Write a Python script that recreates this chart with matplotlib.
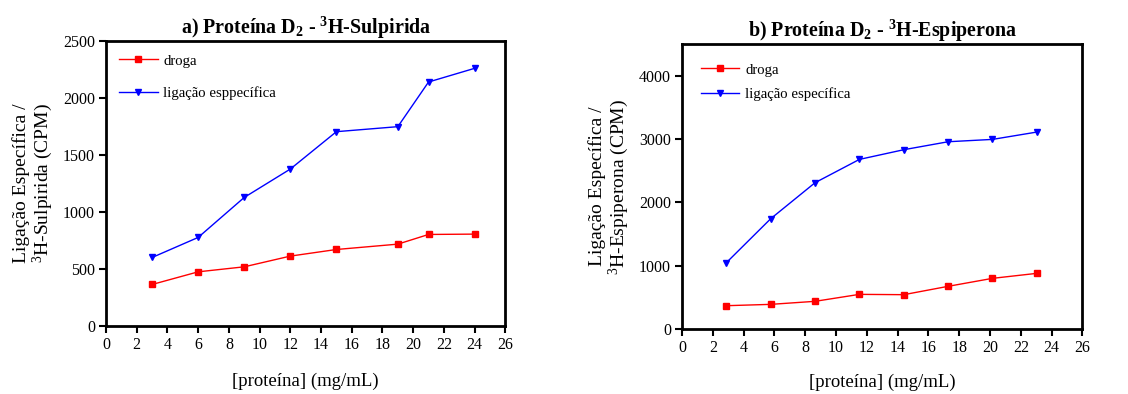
import matplotlib
matplotlib.use('Agg')
import matplotlib.pyplot as plt

plt.rcParams.update({
    'font.family': 'serif', 'font.serif': ['Liberation Serif', 'DejaVu Serif'],
    'mathtext.fontset': 'custom', 'mathtext.rm': 'Liberation Serif',
    'mathtext.bf': 'Liberation Serif:bold', 'mathtext.it': 'Liberation Serif:italic',
})

# a) Sulpirida
x_a = [3, 6, 9, 12, 15, 19, 21, 24]
droga_a = [363, 474, 518, 612, 670, 717, 802, 805]
lig_a = [600, 776, 1127, 1376, 1704, 1748, 2140, 2260]

# b) Espiperona
x_b = [2.88, 5.76, 8.64, 11.52, 14.4, 17.28, 20.16, 23.04]
droga_b = [368, 389, 437, 547, 542, 674, 800, 879]
lig_b = [1047, 1742, 2311, 2679, 2832, 2958, 2995, 3111]

fig = plt.figure(figsize=(11.28, 3.94), dpi=100)
ax1 = fig.add_axes([0.094, 0.173, 0.354, 0.723])
ax2 = fig.add_axes([0.6046, 0.165, 0.355, 0.723])

def style(ax, ylim, ystep):
    ax.set_xlim(0, 26)
    ax.set_ylim(0, ylim)
    ax.set_xticks(range(0, 27, 2))
    ax.set_yticks(range(0, int(ylim) + 1, ystep))
    for s in ax.spines.values():
        s.set_linewidth(2)
    ax.tick_params(direction='out', length=5, width=1.5, labelsize=11.5, pad=3)

leg_kw = dict(loc='upper left', frameon=False, fontsize=10.6, handlelength=2.6,
              handletextpad=0.4)

ax1.plot(x_a, droga_a, color='#ff0000', marker='s', ms=5, lw=1, label='droga')
ax1.plot(x_a, lig_a, color='#0000ff', marker='v', ms=5, lw=1, label='ligação esppecífica')
style(ax1, 2500, 500)
ax1.set_title(r'a) Proteína D$_\mathbf{2}$ - $^\mathbf{3}$H-Sulpirida', fontsize=14.4, fontweight='bold', pad=5)
ax1.set_xlabel('[proteína] (mg/mL)', fontsize=13.5, labelpad=14)
ax1.set_ylabel('Ligação Específica /\n$^3$H-Sulpirida (CPM)', fontsize=14, labelpad=6, linespacing=1.0)
ax1.legend(labelspacing=1.3, borderaxespad=0.5, **leg_kw)

ax2.plot(x_b, droga_b, color='#ff0000', marker='s', ms=5, lw=1, label='droga')
ax2.plot(x_b, lig_b, color='#0000ff', marker='v', ms=5, lw=1, label='ligação específica')
style(ax2, 4500, 1000)
ax2.set_yticks(range(0, 4001, 1000))
ax2.set_title(r'b) Proteína D$_\mathbf{2}$ - $^\mathbf{3}$H-Espiperona', fontsize=14.4, fontweight='bold', pad=5)
ax2.set_xlabel('[proteína] (mg/mL)', fontsize=13.5, labelpad=13)
ax2.set_ylabel('Ligação Específica /\n$^3$H-Espiperona (CPM)', fontsize=14, labelpad=6, linespacing=1.0)
ax2.legend(labelspacing=0.75, borderaxespad=0.9, **leg_kw)

plt.savefig('out.png', dpi=100)
